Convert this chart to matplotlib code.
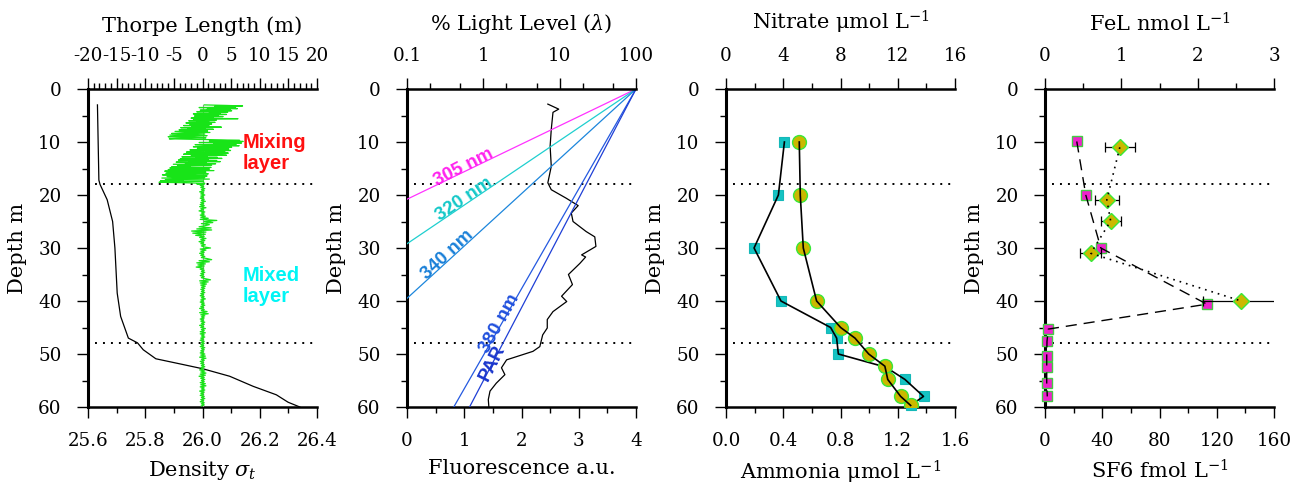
import numpy as np
import matplotlib
matplotlib.use("Agg")
import matplotlib.pyplot as plt
from matplotlib.ticker import MultipleLocator, FixedLocator, NullFormatter, FixedFormatter

plt.rcParams["font.family"] = ["DejaVu Serif"]
plt.rcParams["mathtext.fontset"] = "dejavuserif"
plt.rcParams["axes.unicode_minus"] = False

# ---------------- data ----------------
mixing_layer_depth = 18
mixed_layer_depth = 48

# density profile (sigma-t)
density_depth = [3.0, 17.2, 18.0, 20.9, 25.0, 30.0, 38.5, 42.9, 47.0, 47.9,
                 49.2, 50.9, 52.0, 52.8, 54.2, 56.1, 57.7, 59.1, 60.0]
density_sigma = [25.633, 25.638, 25.642, 25.667, 25.686, 25.694, 25.702, 25.714,
                 25.741, 25.773, 25.793, 25.837, 25.933, 26.002, 26.095, 26.177,
                 26.258, 26.299, 26.34]

# Thorpe displacements, 3.0-17.9 m every 0.1 m
thorpe_upper = [
    0.3, 4.2, 7.0, 2.1, 5.8, -0.6, 3.9, 6.1, 0.8, 4.9,
    -0.4, 5.1, 2.6, -1.0, 4.4, 1.2, 3.1, -1.6, 4.2, 0.5,
    2.8, -1.4, 3.6, -0.8, 1.9, -2.0, 6.2, 0.4, -1.6, 2.4,
    -2.4, 1.1, -0.9, 2.2, -2.9, 0.3, 1.6, -2.2, 0.7, -3.3,
    1.2, -1.9, 3.3, -3.8, 0.5, -2.6, 1.9, -4.1, -1.2, 0.9,
    -4.8, -2.0, 1.3, -3.6, -5.4, 0.4, -2.8, -5.7, 0.8, -3.9,
    -6.0, -1.4, 0.6, -4.6, -5.8, -0.8, 3.4, 6.5, 1.2, 7.1,
    4.3, -0.6, 6.8, 2.0, 5.9, -1.3, 3.6, 6.4, 0.2, -1.6,
    5.1, 1.7, -0.9, 4.6, 2.3, -2.2, 4.9, 0.6, 3.9, -2.8,
    1.4, 4.5, -1.6, -3.3, 2.9, 4.2, -2.0, 0.8, -3.6, 2.6,
    -1.2, 3.4, -3.9, 1.0, -4.2, 2.5, -2.4, 3.1, -4.6, 0.7,
    -3.0, 2.3, -5.1, -1.5, 1.6, -4.4, -2.2, -5.4, 1.5, -5.7,
    -3.1, 1.2, -6.0, -1.8, 2.0, -6.6, -3.5, 0.6, -5.8, -6.4,
    1.0, -4.2, -7.0, -2.1, 0.8, -6.2, -4.0, 0.4, -7.1, -2.8,
    1.2, -6.5, -3.4, -7.3, 0.2, -5.0, -7.6, -2.5, 0.4, -1.0,
]
# Thorpe displacements, 18.0-59.8 m every 0.2 m
thorpe_lower = [
    0.3, -0.4, 0.2, -0.3, 0.4, -0.2, 0.3, -0.5, 0.2, -0.3,
    0.4, -0.3, 0.2, -0.4, 0.3, -0.2, 0.5, -0.3, 0.2, -0.4,
    0.3, -0.5, 0.6, -0.3, 0.2, -0.6, 0.4, -0.2, 0.3, -0.4,
    0.5, -0.3, 1.0, -0.4, 2.5, 0.3, 1.8, -0.2, 1.2, 0.4,
    -0.6, 1.5, -1.0, 1.6, -1.9, 0.6, -1.7, 0.5, -1.2, 0.3,
    -0.5, 0.6, -0.3, 0.4, -0.6, 0.2, -0.3, 0.5, -0.2, 0.3,
    1.4, -0.4, 0.6, -0.3, 0.3, -0.5, 0.2, -0.3, 0.4, -0.2,
    0.8, 1.6, -0.6, 1.2, -1.0, 0.5, -0.8, 0.3, -1.1, 0.2,
    -0.4, 0.3, -0.2, 0.4, -0.3, 0.2, -0.4, 0.3, -0.2, 0.5,
    1.4, -0.5, 1.0, -0.4, 0.7, -0.3, 0.5, -0.2, 0.4, -0.3,
    0.3, -0.2, 0.4, -0.3, 0.2, -0.4, 0.3, -0.2, 0.5, -0.3,
    0.2, -0.4, 0.3, -0.2, 0.4, -0.3, 0.2, -0.5, 0.3, -0.2,
    0.8, -0.5, 1.0, -0.3, 0.4, -0.2, 0.3, -0.4, 0.2, -0.3,
    0.4, -0.2, 0.3, -0.5, 0.2, -0.3, 0.5, -0.2, 0.3, -0.4,
    0.5, -0.4, 0.3, -0.2, 0.4, -0.3, 0.2, -0.4, 0.3, -0.2,
    0.3, -0.3, 0.2, -0.4, 0.4, -0.2, 0.3, -0.3, 0.2, -0.4,
    0.4, -0.3, 0.5, -0.5, 0.6, -0.2, 0.3, -0.4, 0.2, -0.3,
    0.3, -0.2, 0.4, -0.3, 0.2, -0.5, 0.4, -0.3, 0.6, -0.4,
    0.5, -0.6, 0.3, -0.3, 0.4, -0.2, 0.3, -0.4, 0.5, -0.3,
    0.6, -0.4, 0.3, -0.2, 0.4, -0.5, 0.3, -0.3, 0.2, -0.4,
    0.3, -0.2, 0.4, -0.3, 0.2, -0.4, 0.3, -0.2, 0.3, -0.2,
]
thorpe_depth = np.concatenate([3.0 + 0.1 * np.arange(len(thorpe_upper)),
                               18.0 + 0.2 * np.arange(len(thorpe_lower))])
thorpe_disp = np.array(thorpe_upper + thorpe_lower)

# fluorescence profile
fluor_depth = [2.85, 3.8, 4.4, 7.6, 10.8, 14.6, 17.7, 19.0, 20.6, 22.0, 23.4,
               25.0, 26.9, 27.9, 29.7, 31.3, 31.7, 32.9, 35.0, 36.9, 39.1, 40.1,
               42.0, 43.5, 45.1, 46.4, 48.6, 49.5, 51.1, 52.6, 53.9, 55.5, 57.0,
               58.6, 60.0]
fluor_value = [2.46, 2.65, 2.55, 2.52, 2.50, 2.52, 2.46, 2.52, 2.78, 2.99, 2.87,
               2.90, 3.13, 3.28, 3.30, 3.05, 3.12, 3.02, 2.82, 2.89, 2.70, 2.79,
               2.55, 2.45, 2.45, 2.37, 2.32, 2.20, 1.74, 1.65, 1.71, 1.56, 1.45,
               1.42, 1.43]

# percent surface light by waveband
light_bands = ["305 nm", "320 nm", "340 nm", "380 nm", "PAR"]
light_depth = [[0, 20.8], [0, 29.2], [0, 39.5], [0, 60], [0, 60]]
light_pct = [[100, 0.1], [100, 0.1], [100, 0.1], [100, 0.41], [100, 0.66]]

# nutrients
ammonia_depth = [10, 20, 30, 40, 45, 47, 50, 52.5, 54.8, 58, 59.7]
ammonia = [0.408, 0.366, 0.196, 0.384, 0.731, 0.773, 0.785, 1.118, 1.25, 1.38, 1.29]
nitrate_depth = [10, 20, 30, 40, 45, 47, 50, 52.3, 54.8, 58, 59.7]
nitrate = [5.12, 5.19, 5.40, 6.33, 8.01, 9.01, 9.97, 11.1, 11.3, 12.2, 12.9]

# tracer and iron ligands
sf6_depth = [9.9, 20, 30, 40.6, 45.3, 47.6, 50.3, 52.5, 55.5, 58]
sf6 = [22.2, 28.5, 39.0, 113.1, 2.3, 1.4, 1.2, 1.2, 1.2, 1.6]
fel_depth = [11, 20.9, 24.9, 31, 40]
fel = [0.98, 0.81, 0.86, 0.60, 2.57]
fel_err = [0.20, 0.16, 0.13, 0.14, 0.50]

# ---------------- figure ----------------
W, H = 1293, 483
fig = plt.figure(figsize=(W / 100, H / 100), dpi=100)
lefts = [88, 407, 726, 1045]
ax_w, ax_top, ax_bot = 229, 89, 407

TICK_FS = 13.2
LABEL_FS = 15
SPINE_W = 1.8


def make_panel(left):
    ax = fig.add_axes([left / W, 1 - ax_bot / H, ax_w / W, (ax_bot - ax_top) / H])
    top = ax.twiny()
    ax.set_ylim(60, 0)
    ax.yaxis.set_major_locator(MultipleLocator(10))
    ax.yaxis.set_minor_locator(MultipleLocator(5))
    ax.spines["right"].set_visible(False)
    ax.spines["top"].set_visible(False)
    ax.spines["left"].set_linewidth(2.2)
    ax.spines["bottom"].set_linewidth(SPINE_W)
    for s in ["left", "right", "bottom"]:
        top.spines[s].set_visible(False)
    top.spines["top"].set_linewidth(SPINE_W)
    ax.tick_params(axis="both", which="major", direction="out", length=8,
                   width=1, labelsize=TICK_FS, color="k")
    ax.tick_params(axis="both", which="minor", direction="out", length=4.5, width=1)
    ax.tick_params(axis="y", which="major", pad=11)
    ax.tick_params(axis="x", which="major", pad=10)
    top.tick_params(axis="x", which="major", direction="out", length=8, width=1,
                    labelsize=TICK_FS, pad=9)
    top.tick_params(axis="x", which="minor", direction="out", length=4.5, width=1)
    ax.set_ylabel("Depth m", fontsize=LABEL_FS)
    ax.yaxis.set_label_coords(-61 / ax_w, 0.5)
    for d in (mixing_layer_depth, mixed_layer_depth):
        ax.axhline(d, color="k", lw=1.4, ls=(0, (1, 3.1)), xmin=0.03, zorder=1)
    return ax, top


def set_titles(ax, top, bottom_label, top_label):
    ax.set_xlabel(bottom_label, fontsize=LABEL_FS, va="top")
    ax.xaxis.set_label_coords(0.5, -(459 - ax_bot) / (ax_bot - ax_top))
    top.set_xlabel(top_label, fontsize=LABEL_FS, va="bottom")
    top.xaxis.set_label_coords(0.5, 1 + (ax_top - 36) / (ax_bot - ax_top))


# ---- panel 1: density and Thorpe length ----
ax1, top1 = make_panel(lefts[0])
ax1.set_xlim(25.6, 26.4)
ax1.xaxis.set_major_locator(FixedLocator([25.6, 25.8, 26.0, 26.2, 26.4]))
ax1.xaxis.set_major_formatter(FixedFormatter(["25.6", "25.8", "26.0", "26.2", "26.4"]))
ax1.xaxis.set_minor_locator(MultipleLocator(0.1))
ax1.plot(density_sigma, density_depth, color="k", lw=0.9, zorder=3)
top1.set_xlim(-20, 20)
top1.xaxis.set_major_locator(MultipleLocator(5))
top1.xaxis.set_minor_locator(MultipleLocator(1))
top1.set_ylim(60, 0)
top1.plot([0, 0], [3, 60], color="#9a9a9a", lw=0.8, zorder=1)
top1.plot(thorpe_disp, thorpe_depth, color="#18e418", lw=0.9, zorder=2)
top1.text(7.0, 12.1, "Mixing\nlayer", color="#ff1010", fontsize=14.5,
          fontweight="bold", family="Liberation Sans", ha="left", va="center",
          linespacing=1.12, zorder=5)
top1.text(7.0, 37.2, "Mixed\nlayer", color="#00f5f5", fontsize=14.5,
          fontweight="bold", family="Liberation Sans", ha="left", va="center",
          linespacing=1.12, zorder=5)
set_titles(ax1, top1, r"Density $\sigma_t$", "Thorpe Length (m)")

# ---- panel 2: fluorescence and light ----
ax2, top2 = make_panel(lefts[1])
ax2.set_xlim(0, 4)
ax2.xaxis.set_major_locator(MultipleLocator(1))
ax2.xaxis.set_minor_locator(MultipleLocator(0.5))
ax2.plot(fluor_value, fluor_depth, color="k", lw=0.9, zorder=3)
top2.set_xscale("log")
top2.set_xlim(0.1, 100)
top2.set_ylim(60, 0)
top2.xaxis.set_major_locator(FixedLocator([0.1, 1, 10, 100]))
top2.xaxis.set_major_formatter(FixedFormatter(["0.1", "1", "10", "100"]))
top2.xaxis.set_minor_locator(FixedLocator([0.2, 0.5, 2, 5, 20, 50]))
top2.xaxis.set_minor_formatter(NullFormatter())
line_colors = ["#ff33ff", "#1fcfcf", "#1c86dc", "#2459e0", "#1f3fd6"]
text_colors = ["#ff22ee", "#14c8c8", "#1a80d8", "#2050dd", "#1a36cc"]
label_depth = [15.7, 21.9, 32.6, 44.9, 51.7]
label_rot = [27, 34, 43, 61, 63]
label_shift = [-1.0, -1.0, -1.3, -0.6, 0.0]
for band, dz, pz, lc, tc, ld, rot, sh in zip(light_bands, light_depth, light_pct,
                                              line_colors, text_colors, label_depth,
                                              label_rot, label_shift):
    top2.plot(pz, dz, color=lc, lw=0.9, zorder=2)
    frac = ld / dz[1]
    lp = 10 ** (np.log10(pz[0]) + frac * (np.log10(pz[1]) - np.log10(pz[0])))
    top2.text(lp, ld + sh, band, color=tc, fontsize=13.5, fontweight="bold",
              family="Liberation Sans", rotation=rot, rotation_mode="anchor",
              ha="center", va="center", zorder=5)
set_titles(ax2, top2, "Fluorescence a.u.", r"% Light Level ($\lambda$)")

# ---- panel 3: ammonia and nitrate ----
ax3, top3 = make_panel(lefts[2])
ax3.set_xlim(0, 1.6)
ax3.xaxis.set_major_locator(FixedLocator([0, 0.4, 0.8, 1.2, 1.6]))
ax3.xaxis.set_major_formatter(FixedFormatter(["0.0", "0.4", "0.8", "1.2", "1.6"]))
ax3.xaxis.set_minor_locator(MultipleLocator(0.2))
ax3.plot(ammonia, ammonia_depth, ls="none", marker="s", ms=7, mfc="#14c3c3",
         mec="#14b8b8", mew=0.8, zorder=3, clip_on=False)
ax3.plot(ammonia, ammonia_depth, color="k", lw=1.2, zorder=4)
top3.set_xlim(0, 16)
top3.set_ylim(60, 0)
top3.xaxis.set_major_locator(MultipleLocator(4))
top3.xaxis.set_minor_locator(MultipleLocator(2))
top3.plot(nitrate, nitrate_depth, ls="none", marker="o", ms=10, mfc="#cbb800",
          mec="#39e839", mew=1.0, zorder=3)
top3.plot(nitrate, nitrate_depth, color="k", lw=1.2, zorder=4)
set_titles(ax3, top3, r"Ammonia $\mathrm{\mu}$mol L$^{\mathrm{-1}}$",
           r"Nitrate $\mathrm{\mu}$mol L$^{\mathrm{-1}}$")

# ---- panel 4: SF6 and FeL ----
ax4, top4 = make_panel(lefts[3])
ax4.set_xlim(0, 160)
ax4.xaxis.set_major_locator(MultipleLocator(40))
ax4.xaxis.set_minor_locator(MultipleLocator(20))
ax4.plot(sf6, sf6_depth, ls="none", marker="s", ms=6.5, mfc="#ee22cc",
         mec="#44cc44", mew=1.0, zorder=3, clip_on=False)
ax4.plot(sf6, sf6_depth, color="k", lw=1.0, ls=(0, (8, 5)), zorder=4)
top4.set_xlim(0, 3)
top4.set_ylim(60, 0)
top4.xaxis.set_major_locator(MultipleLocator(1))
top4.xaxis.set_minor_locator(MultipleLocator(0.5))
top4.errorbar(fel, fel_depth, xerr=fel_err, fmt="none", ecolor="k",
              elinewidth=0.9, capsize=3.5, capthick=0.9, zorder=2)
top4.plot(fel, fel_depth, ls="none", marker="D", ms=8, mfc="#cbb800",
          mec="#39e839", mew=1.0, zorder=3)
top4.plot(fel, fel_depth, color="k", lw=1.2, ls=(0, (1, 3)), zorder=4)
set_titles(ax4, top4, r"SF6 fmol L$^{\mathrm{-1}}$", r"FeL nmol L$^{\mathrm{-1}}$")

fig.savefig("out.png", dpi=100, facecolor="white")
